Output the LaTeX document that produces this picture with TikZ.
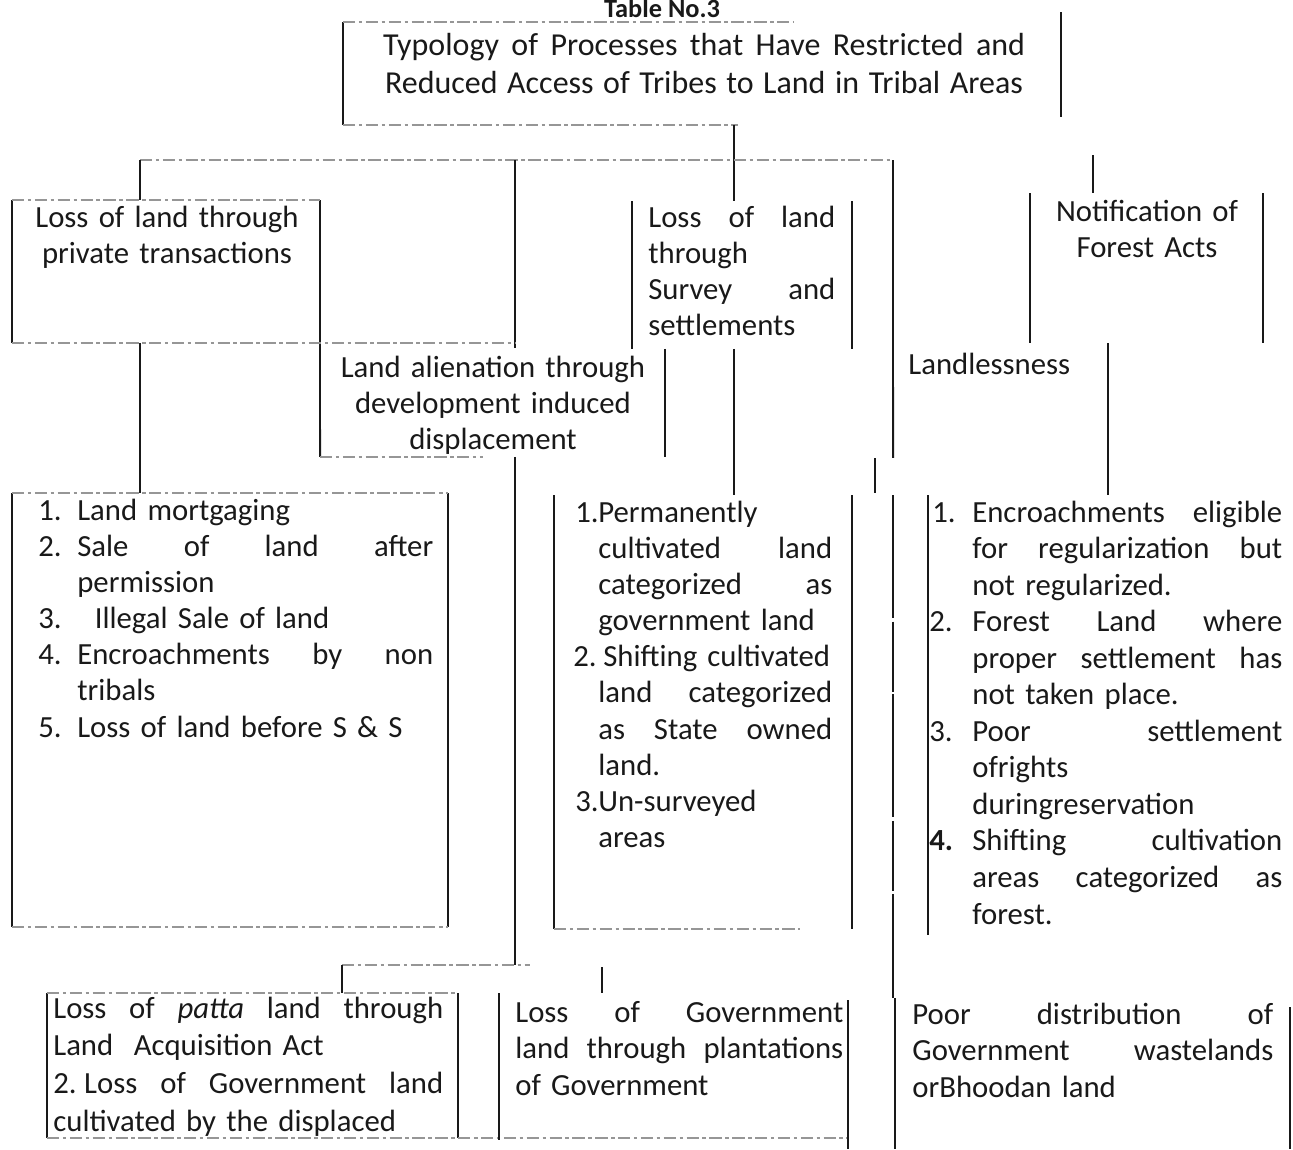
\documentclass[tikz,border=0pt]{standalone}
\usepackage{fontspec}
\setmainfont{Carlito}
\usetikzlibrary{calc}
\definecolor{ink}{RGB}{25,25,25}
\definecolor{faint}{RGB}{150,150,150}
\newcommand\spread[2][\linewidth]{\makebox[#1][s]{\spaceskip=0pt\xspaceskip=0pt\relax #2}}
\newcommand\num[2][0.78cm]{\leavevmode\llap{\makebox[#1][l]{#2}}}

\begin{document}
\begin{tikzpicture}[x=0.02cm, y=-0.02cm,
    vline/.style={ink, line width=1.1pt},
    vbroken/.style={ink, line width=1pt, dash pattern=on 70pt off 2pt on 40pt off 1.5pt},
    hline/.style={faint, line width=0.9pt, dash pattern=on 7pt off 2pt on 2pt off 2pt},
    cell/.style={inner sep=0pt, outer sep=0pt},
    txt/.style={inner sep=0pt, anchor=base west, align=left, text=ink, font=\fontsize{17.5}{20.6}\selectfont},
    ctr/.style={txt, anchor=base, align=center}]

  \useasboundingbox (0,0) rectangle (1293,1149);
  \clip (0,0) rectangle (1293,1149);

  % cells
  \node[cell, minimum width=14.36cm, minimum height=2.06cm] (title) at (702,73.5) {};
  \node[cell, minimum width=6.16cm, minimum height=2.86cm] (pvt) at (166,271.5) {};
  \node[cell, minimum width=6.9cm, minimum height=2.18cm] (alien) at (492.5,402.5) {};
  \node[cell, minimum width=4.4cm, minimum height=2.96cm] (survey) at (742,275) {};
  \node[cell, minimum width=4.66cm, minimum height=3cm] (notif) at (1146.5,268) {};
  \node[cell, minimum width=4.3cm, minimum height=2.3cm] (landless) at (1000.5,400.5) {};
  \node[cell, minimum width=8.72cm, minimum height=8.68cm] (pvtlist) at (230,710) {};
  \node[cell, minimum width=5.96cm, minimum height=8.68cm] (svlist) at (703,712) {};
  \node[cell, minimum width=7.24cm, minimum height=8.8cm] (enlist) at (1109,715) {};
  \node[cell, minimum width=8.22cm, minimum height=2.9cm] (patta) at (252.5,1065.5) {};
  \node[cell, minimum width=6.98cm, minimum height=3.12cm] (govt) at (673.5,1071) {};
  \node[cell, minimum width=7.9cm, minimum height=3.02cm] (poor) at (1092.5,1073.5) {};

  \coordinate (trunk) at (734,125);
  \coordinate (bleft) at (140,160);
  \coordinate (bdev) at (515,160);
  \coordinate (bright) at (893,160);
  \coordinate (bnotif) at (1093,155);
  \coordinate (jland) at (875,458);
  \coordinate (jdisp) at (515,965);
  \coordinate (jpatta) at (342,965);
  \coordinate (jgovt) at (602,967);

  % title box
  \draw[vline] (title.north west) -- (title.south west);
  \draw[vline] ($(title.north east)+(0,-10)$) -- ($(title.south east)+(0,-8)$);
  \draw[hline] (title.north west) -- ++(450,0);
  \draw[hline] (title.south west) -- ++(395,0);
  \draw[vline] (trunk) -- (trunk |- survey.north);

  % branches
  \draw[hline] (bleft) -- (bright);
  \draw[vline] (bleft) -- (bleft |- pvt.north);
  \draw[vline] (bdev) -- (bdev |- alien.north);
  \draw[vline] (bright) -- (landless.south west);
  \draw[vline] (bnotif) -- (bnotif |- notif.north);

  \draw[vline] (pvt.north west) -- (pvt.south west);
  \draw[vline] (pvt.north east) -- (alien.south west);
  \draw[hline] (pvt.north west) -- (pvt.north east);
  \draw[hline] (pvt.south west) -- ++(503,0);
  \draw[vline] (survey.north west) -- (survey.south west);
  \draw[vline] (survey.north east) -- (survey.south east);
  \draw[vline] (notif.north west) -- (notif.south west);
  \draw[vline] (notif.north east) -- (notif.south east);
  \draw[vline] (survey.south west -| alien.east) -- (alien.south east);
  \draw[hline] (alien.south west) -- ++(163,0);
  \draw[vline] (landless.north east) -- (landless.east |- enlist.north);

  % down to the lists
  \draw[vline] (pvt.south -| bleft) -- (bleft |- pvtlist.north);
  \draw[vline] (trunk |- survey.south) -- (trunk |- svlist.north);
  \draw[vbroken] (jland) -- ++(0,35);
  \draw[vline] (bdev |- alien.south) -- (jdisp);
  \draw[vbroken] (landless.west |- enlist.north) -- (landless.west |- poor.north);

  \draw[vline] (pvtlist.north west) -- (pvtlist.south west);
  \draw[vline] (pvtlist.north east) -- (pvtlist.south east);
  \draw[hline] (pvtlist.north west) -- (pvtlist.north east);
  \draw[hline] (pvtlist.south west) -- (pvtlist.south east);
  \draw[vline] (svlist.north west) -- (svlist.south west);
  \draw[vline] (svlist.north east) -- (svlist.south east);
  \draw[hline] (svlist.south west) -- ++(246,0);
  \draw[vline] (enlist.north west) -- (enlist.south west);

  % bottom row
  \draw[hline] (jpatta) -- ($(jdisp)+(15,0)$);
  \draw[vline] (jpatta) -- (jpatta |- patta.north);
  \draw[vline] (jgovt) -- (jgovt |- govt.north);
  \draw[vline] (patta.north west) -- (patta.south west);
  \draw[vline] (patta.north east) -- (patta.south east);
  \draw[hline] (patta.north west) -- (patta.north east);
  \draw[hline] (patta.south west) -- (patta.south west -| govt.east);
  \draw[vline] (govt.north west) -- ++(0,147);
  \draw[vline] ($(govt.north east)+(0,7)$) -- (govt.south east);
  \draw[vline] (poor.north west) -- (poor.south west);
  \draw[vline] ($(poor.north east)+(0,9)$) -- (poor.south east);

  % texts
  \node[ctr, font=\bfseries\fontsize{15}{18}\selectfont] (tabno) at (662,18) {Table No.3};
  \node[ctr, text width=14cm, font=\fontsize{18.2}{21.6}\selectfont] (ttl) at (704,56)
    {\spread[12.84cm]{Typology  of  Processes that Have  Restricted and}\\
     \spread[12.76cm]{Reduced Access of Tribes to Land in Tribal Areas}};
  \node[ctr, text width=6cm] (pvttxt) at (167,227) {Loss of land through\\ private transactions};
  \node[ctr, text width=6.5cm] (alientxt) at (493,377) {Land alienation through\\ development induced\\ displacement};
  \node[txt, text width=3.74cm] (surveytxt) at (648,227)
    {\spread{Loss of land}\\ through\\ \spread{Survey and}\\ settlements};
  \node[ctr, text width=4.4cm] (notiftxt) at (1147,221) {Notification of\\ Forest Acts};
  \node[txt] (landtxt) at (908,374) {Landlessness};

  \node[txt, text width=7.12cm] (pvtitems) at (77,520)
    {\num{1.}Land mortgaging\\
     \num{2.}\spread{Sale of land after}\\
     permission\\
     \num{3.}\hspace{0.35cm}Illegal Sale of land\\
     \num{4.}\spread{Encroachments by non}\\
     tribals\\
     \num{5.}Loss of land before S \& S};
  \node[txt, text width=4.68cm] (svitems) at (598,522)
    {\num[0.46cm]{1.}Permanently\\
     \spread{cultivated land}\\
     \spread{categorized as}\\
     government land\\
     \num[0.5cm]{2.}\mbox{\hspace{0.1cm}Shifting cultivated}\\
     \spread{land categorized}\\
     \spread{as State owned}\\
     land.\\
     \num[0.46cm]{3.}Un-surveyed\\
     areas};
  \node[txt, text width=6.2cm, font=\fontsize{17.5}{20.8}\selectfont] (enitems) at (972,522)
    {\num[0.8cm]{1.}\spread{Encroachments eligible}\\
     \spread{for regularization but}\\
     not regularized.\\
     \num[0.86cm]{2.}\spread{Forest Land where}\\
     \spread{proper settlement has}\\
     not taken place.\\
     \num[0.86cm]{3.}\spread{Poor settlement}\\
     ofrights\\
     duringreservation\\
     \num[0.86cm]{\textbf{4.}}\spread{Shifting cultivation}\\
     \spread{areas categorized as}\\
     forest.};

  \node[txt, text width=7.8cm, font=\fontsize{17.5}{21.6}\selectfont] (pattatxt) at (53,1018)
    {\spread{Loss of \textit{patta} land through}\\
     Land\ \ Acquisition Act\\
     \spread{2.\hspace{0.15cm}Loss of Government land}\\
     cultivated by the displaced};
  \node[txt, text width=6.56cm, font=\fontsize{17.5}{21}\selectfont] (govttxt) at (515,1022)
    {\spread{Loss of Government}\\ \spread{land through plantations}\\ of Government};
  \node[txt, text width=7.22cm, font=\fontsize{17.5}{21}\selectfont] (poortxt) at (912,1024)
    {\spread{Poor distribution of}\\ \spread{Government wastelands}\\ orBhoodan land};
\end{tikzpicture}
\end{document}
